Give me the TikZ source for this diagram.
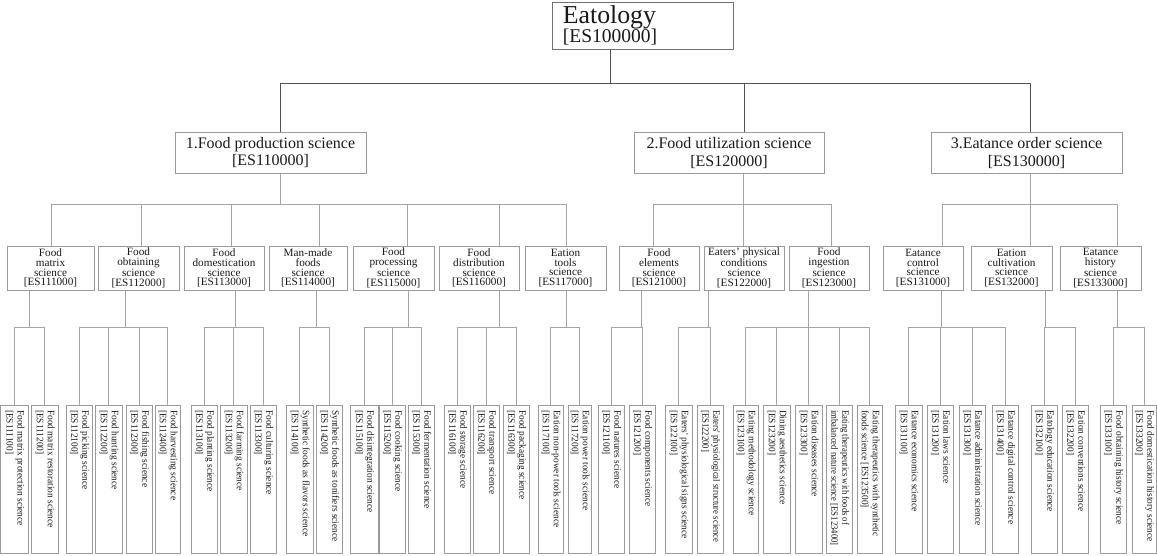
\documentclass[tikz,border=0pt]{standalone}
\usepackage{fontspec}
\usepackage{graphicx}
\setmainfont{Liberation Serif}
\newfontfamily\leaffont[FakeStretch=0.95]{Liberation Serif}
\definecolor{lgray}{HTML}{A4A4A4}
\definecolor{dgray}{HTML}{505050}
\definecolor{bgray}{HTML}{9A9A9A}
\definecolor{rgray}{HTML}{707070}
\definecolor{txt}{HTML}{1A1A1A}
\begin{document}
\begin{tikzpicture}[x=1pt,y=-1pt,
  ln/.style={draw=lgray, line width=1pt},
  dk/.style={draw=dgray, line width=1pt},
  rootbox/.style={draw=rgray, line width=1pt, minimum width=181pt, minimum height=47pt, inner sep=0pt},
  roottxt/.style={inner sep=0pt, text=txt},
  l1box/.style={draw=bgray, line width=1pt, minimum height=41pt, inner sep=0pt, align=center, text=txt, font=\fontsize{16}{17.5}\selectfont},
  l2box/.style={draw=bgray, line width=1pt, minimum height=44pt, inner sep=0pt, align=center, text=txt, font=\fontsize{11.2}{9.8}\selectfont},
  leafbox/.style={draw=bgray, line width=1pt, minimum height=148pt, inner sep=0pt},
  leaftxt/.style={inner sep=0pt, rotate=-90, anchor=west, text=txt, font=\leaffont\fontsize{9.8}{11}\selectfont}]
\fill[white] (0,0) rectangle (1157,555);
\useasboundingbox (0,0) rectangle (1157,555);

% root
\node[rootbox] (root) at (642.5,25.5) {};
\node[roottxt] (rtxt) at (610,25.5) {\begin{tabular}{@{}l@{}}\fontsize{25.8}{26}\selectfont Eatology\\ \fontsize{19.5}{21}\selectfont{[ES100000]}\end{tabular}};

% level 1
\node[l1box, minimum width=191pt] (P1) at (270.5,152.5) {1.Food production science\\{[ES110000]}};
\node[l1box, minimum width=190pt] (P2) at (729,153) {2.Food utilization science\\{[ES120000]}};
\node[l1box, minimum width=191pt] (P3) at (1026.5,153) {3.Eatance order science\\{[ES130000]}};

% level 2
\node[l2box, minimum width=87pt] (A1) at (50.5,268) {Food\\matrix\\science\\{[ES111000]}};
\node[l2box, minimum width=81pt] (A2) at (138.5,268) {Food\\obtaining\\science\\{[ES112000]}};
\node[l2box, minimum width=80pt] (A3) at (224,268) {Food\\domestication\\science\\{[ES113000]}};
\node[l2box, minimum width=78pt] (A4) at (308,268) {Man-made\\foods\\science\\{[ES114000]}};
\node[l2box, minimum width=81pt] (A5) at (393.5,268) {Food\\processing\\science\\{[ES115000]}};
\node[l2box, minimum width=80pt] (A6) at (479,268) {Food\\distribution\\science\\{[ES116000]}};
\node[l2box, minimum width=81pt] (A7) at (565.5,268) {Eation\\tools\\science\\{[ES117000]}};
\node[l2box, minimum width=80pt] (B1) at (659,268) {Food\\elements\\science\\{[ES121000]}};
\node[l2box, minimum width=80pt] (B2) at (744,268) {Eaters' physical\\conditions\\science\\{[ES122000]}};
\node[l2box, minimum width=80pt] (B3) at (829,268) {Food\\ingestion\\science\\{[ES123000]}};
\node[l2box, minimum width=80pt] (C1) at (923,268) {Eatance\\control\\science\\{[ES131000]}};
\node[l2box, minimum width=81pt] (C2) at (1011.5,268) {Eation\\cultivation\\science\\{[ES132000]}};
\node[l2box, minimum width=81pt] (C3) at (1100.5,268) {Eatance\\history\\science\\{[ES133000]}};

% leaves
\foreach \nm/\xl/\xr/\sc/\ta/\tb in {
 L1/0.5/28/1/Food matrix protection science/{[ES111100]},
 L2/31/58/1/Food matrix restoration science/{[ES111200]},
 L3/66/92/1/Food picking science/{[ES112100]},
 L4/95/122/1/Food hunting science/{[ES112200]},
 L5/126/152/1/Food fishing science/{[ES112300]},
 L6/155/180/1/Food harvesting science/{[ES112400]},
 L7/191/217/1/Food planting science/{[ES113100]},
 L8/220/247/1/Food farming science/{[ES113200]},
 L9/250/276/1/Food culturing science/{[ES113300]},
 L10/286/313/1/Synthetic foods as flavors science/{[ES114100]},
 L11/316/342/1/Synthetic foods as tonifiers science/{[ES114200]},
 L12/350/378/1/Food disintegration science/{[ES115100]},
 L13/379/405/1/Food cooking science/{[ES115200]},
 L14/408/434/1/Food fermentation science/{[ES115300]},
 L15/444/470/1/Food storage science/{[ES116100]},
 L16/473/499/1/Food transport science/{[ES116200]},
 L17/503/529/1/Food packaging science/{[ES116300]},
 L18/538/563/1/Eation non-power tools science/{[ES117100]},
 L19/568/591/1/Eation power tools science/{[ES117200]},
 L20/598/624/1/Food natures science/{[ES121100]},
 L21/629/655/1/Food components science/{[ES121200]},
 L22/665/692/1/Eaters' physiological signs science/{[ES122100]},
 L23/697/723/0.93/Eaters' physiological structure science/{[ES122200]},
 L24/733/758/1/Eating methodology science/{[ES123100]},
 L25/763/790/1/Dining aesthetics science/{[ES123200]},
 L26/795/822/1/Eation diseases science/{[ES123300]},
 L27/826/852/0.93/Eating therapeutics with foods of/{imbalanced nature science [ES123400]},
 L28/857/882/1/Eating therapeutics with synthetic/{foods science [ES123500]},
 L29/895/922/1/Eatance economics science/{[ES131100]},
 L30/927/953/1/Eation laws science/{[ES131200]},
 L31/959/985/1/Eatance administration science/{[ES131300]},
 L32/992/1018/1/Eatance digital control science/{[ES131400]},
 L33/1031/1057/1/Eatology education science/{[ES132100]},
 L34/1062/1088/1/Eation conventions science/{[ES132200]},
 L35/1100/1126/1/Food obtaining history science/{[ES133100]},
 L36/1132/1156/1/Food domestication history science/{[ES133200]}}{
  \pgfmathsetmacro\cx{(\xl+\xr)/2}
  \pgfmathsetmacro\bw{\xr-\xl}
  \node[leafbox, minimum width=\bw pt] (\nm) at (\cx,479) {};
  \node[leaftxt] (\nm t) at (\cx,410) {\scalebox{\sc}[1]{\begin{tabular}{@{}l@{}}\ta\\ \tb\end{tabular}}};
}

% helper levels
\coordinate (tb) at (0,83);
\coordinate (b1) at (0,204);
\coordinate (lb) at (0,327);

% root to level 1
\coordinate (uP1) at ([xshift=9.5pt]P1.north);
\coordinate (uP2) at ([xshift=15pt]P2.north);
\coordinate (uP3) at ([xshift=3.5pt]P3.north);
\draw[dk] (rtxt |- root.south) -- (rtxt |- tb);
\draw[dk] (uP1 |- tb) -- (uP3 |- tb);
\foreach \p in {uP1,uP2,uP3} \draw[dk] (\p |- tb) -- (\p);

% level 1 to level 2
\coordinate (dP1) at ([xshift=9.5pt]P1.south);
\coordinate (dP2) at ([xshift=14pt]P2.south);
\coordinate (dP3) at ([xshift=3.5pt]P3.south);
\foreach \p in {dP1,dP2,dP3} \draw[ln] (\p) -- (\p |- b1);
\foreach \nm/\o in {A1/0.5,A2/2.5,A3/7,A4/11,A5/13.5,A6/20,A7/0.5,B1/-6,B2/-1,B3/2,C1/19,C2/18.5,C3/16.5}
  \coordinate (u\nm) at ([xshift=\o pt]\nm.north);
\draw[ln] (uA1 |- b1) -- (uA7 |- b1);
\draw[ln] (uB1 |- b1) -- (uB3 |- b1);
\draw[ln] (uC1 |- b1) -- (uC3 |- b1);
\foreach \nm in {A1,A2,A3,A4,A5,A6,A7,B1,B2,B3,C1,C2,C3}
  \draw[ln] (u\nm |- b1) -- (u\nm);

% level 2 to leaves
\foreach \nm/\o in {A1/-21.5,A2/-13.5,A3/11,A4/8,A5/14.5,A6/20,A7/0.5,B1/-18,B2/-36,B3/-21,C1/18,C2/33.5,C3/16.5}{
  \coordinate (d\nm) at ([xshift=\o pt]\nm.south);
  \draw[ln] (d\nm) -- (d\nm |- lb);
}
\foreach \fa/\fb in {L1/L2,L3/L6,L7/L9,L10/L11,L12/L14,L15/L17,L18/L19,L20/L21,L22/L23,L24/L28,L29/L32,L33/L34,L35/L36}
  \draw[ln] (\fa.north |- lb) -- (\fb.north |- lb);
\foreach \i in {1,...,36}
  \draw[ln] (L\i.north |- lb) -- (L\i.north);
\end{tikzpicture}
\end{document}
